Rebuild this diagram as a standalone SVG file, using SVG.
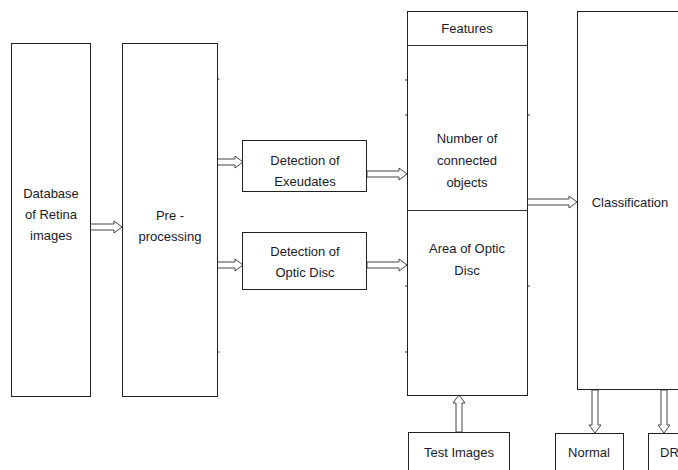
<svg xmlns="http://www.w3.org/2000/svg" width="678" height="470" viewBox="0 0 678 470">
<style>
.box{fill:#fff;stroke:#222;stroke-width:1}
.arr{fill:#fff;stroke:#444;stroke-width:1}
.tick{stroke:#333;stroke-width:1}
text{font-family:"Liberation Sans",Arial,sans-serif;font-size:13px;fill:#1a1a2a;text-anchor:middle}
</style>
<rect width="678" height="470" fill="#fff"/>
<g id="connectors">
<polygon class="arr" points="90,224 114,224 114,221 122,227 114,233 114,230 90,230"/>
<polygon class="arr" points="217,159 235,159 235,156 243,162 235,168 235,165 217,165"/>
<polygon class="arr" points="217,262 235,262 235,259 243,265 235,271 235,268 217,268"/>
<polygon class="arr" points="367,171 399,171 399,168 407,174 399,180 399,177 367,177"/>
<polygon class="arr" points="367,262 399,262 399,259 407,265 399,271 399,268 367,268"/>
<polygon class="arr" points="527,199 569,199 569,196 577,202 569,208 569,205 527,205"/>
<polygon class="arr" points="456,432 456,403 453,403 459,395 465,403 462,403 462,432"/>
<polygon class="arr" points="592,390 592,425 589,425 595,433 601,425 598,425 598,390"/>
<polygon class="arr" points="661,390 661,425 658,425 664,433 670,425 667,425 667,390"/>
</g>
<g id="database">
<rect class="box" x="11.5" y="43.5" width="79" height="353"/>
<text x="51" y="198">Database</text>
<text x="51" y="219">of Retina</text>
<text x="51" y="240">images</text>
</g>
<g id="preprocessing">
<rect class="box" x="122.5" y="43.5" width="95" height="353"/>
<line class="tick" x1="217.5" y1="79" x2="219.5" y2="79"/>
<line class="tick" x1="217.5" y1="352" x2="219.5" y2="352"/>
<text x="170" y="220">Pre -</text>
<text x="170" y="241">processing</text>
</g>
<g id="exudates">
<rect class="box" x="242.5" y="140.5" width="124" height="51"/>
<text x="305" y="165">Detection of</text>
<text x="305" y="186">Exeudates</text>
</g>
<g id="opticdisc">
<rect class="box" x="242.5" y="232.5" width="124" height="57"/>
<text x="305" y="256">Detection of</text>
<text x="305" y="277">Optic Disc</text>
</g>
<g id="features">
<rect class="box" x="407.5" y="11.5" width="120" height="384"/>
<line class="tick" x1="407.5" y1="45.5" x2="527.5" y2="45.5"/>
<line class="tick" x1="407.5" y1="210.5" x2="527.5" y2="210.5"/>
<line class="tick" x1="405" y1="80" x2="407" y2="80"/>
<line class="tick" x1="405" y1="115" x2="407" y2="115"/>
<line class="tick" x1="405" y1="286" x2="407" y2="286"/>
<line class="tick" x1="405" y1="352" x2="407" y2="352"/>
<line class="tick" x1="528" y1="115" x2="530" y2="115"/>
<line class="tick" x1="528" y1="286" x2="530" y2="286"/>
<text x="467" y="33">Features</text>
<text x="467" y="143">Number of</text>
<text x="467" y="165">connected</text>
<text x="467" y="187">objects</text>
<text x="467" y="253">Area of Optic</text>
<text x="467" y="275">Disc</text>
</g>
<g id="testimages">
<rect class="box" x="408.5" y="432.5" width="101" height="50"/>
<text x="459" y="457">Test Images</text>
</g>
<g id="classification">
<rect class="box" x="577.5" y="11.5" width="130" height="378"/>
<text x="630" y="207">Classification</text>
</g>
<g id="normal">
<rect class="box" x="555.5" y="433.5" width="68" height="50"/>
<text x="589" y="457">Normal</text>
</g>
<g id="dr">
<rect class="box" x="648.5" y="433.5" width="60" height="50"/>
<text x="660" y="457" style="text-anchor:start">DR</text>
</g>
</svg>
